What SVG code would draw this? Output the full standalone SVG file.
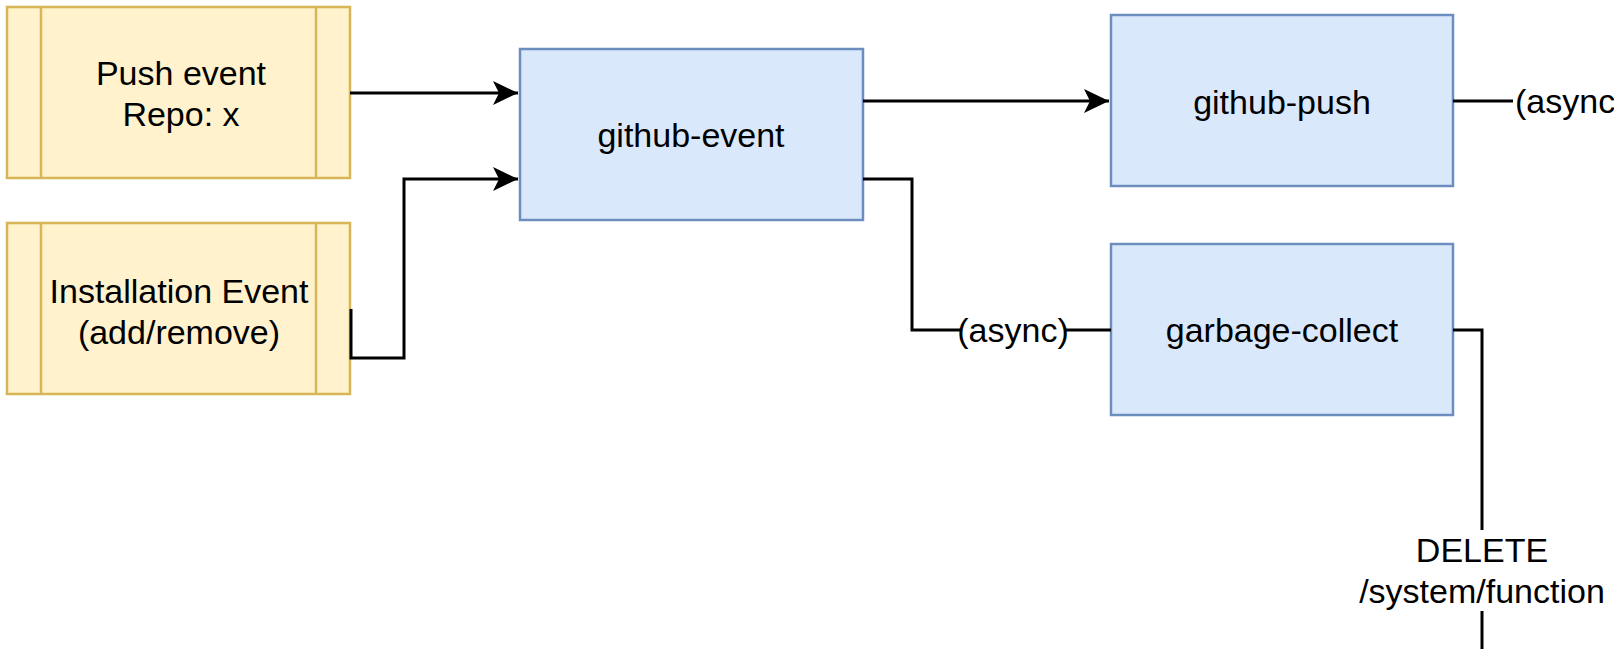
<svg xmlns="http://www.w3.org/2000/svg" width="1614" height="649" viewBox="0 0 1614 649">
<defs>
<style>
.ev{fill:#fff2cc;stroke:#d6b656;stroke-width:2.5}
.evl{stroke:#d6b656;stroke-width:2.5;fill:none}
.fn{fill:#dae8fc;stroke:#6c8ebf;stroke-width:2.5}
.t{font-family:"Liberation Sans",Arial,sans-serif;font-size:34px;fill:#000;text-anchor:middle}
.c{fill:none;stroke:#000;stroke-width:3}
</style>
<marker id="ah" markerUnits="userSpaceOnUse" markerWidth="30" markerHeight="30" viewBox="0 0 30 30" refX="25" refY="15" orient="auto">
<path d="M0,3 L25,15 L0,27 L6,15 Z" fill="#000"/>
</marker>
</defs>
<g id="push-event">
<rect class="ev" x="7" y="7" width="343" height="171"/>
<line class="evl" x1="41" y1="7" x2="41" y2="178"/>
<line class="evl" x1="316" y1="7" x2="316" y2="178"/>
<text class="t" x="181" y="85">Push event</text>
<text class="t" x="181" y="126">Repo: x</text>
</g>
<g id="installation-event">
<rect class="ev" x="7" y="223" width="343" height="171"/>
<line class="evl" x1="41" y1="223" x2="41" y2="394"/>
<line class="evl" x1="316" y1="223" x2="316" y2="394"/>
<text class="t" x="179" y="303">Installation Event</text>
<text class="t" x="179" y="344">(add/remove)</text>
</g>
<g id="github-event">
<rect class="fn" x="520" y="49" width="343" height="171"/>
<text class="t" x="691" y="147">github-event</text>
</g>
<g id="github-push">
<rect class="fn" x="1111" y="15" width="342" height="171"/>
<text class="t" x="1282" y="114">github-push</text>
</g>
<g id="garbage-collect">
<rect class="fn" x="1111" y="244" width="342" height="171"/>
<text class="t" x="1282" y="342">garbage-collect</text>
</g>
<g id="connectors">
<path class="c" d="M350,93 L518,93" marker-end="url(#ah)"/>
<path class="c" d="M351,309 L351,358 L404,358 L404,179 L518,179" marker-end="url(#ah)"/>
<path class="c" d="M863,101 L1109,101" marker-end="url(#ah)"/>
<path class="c" d="M1453,101 L1513,101"/>
<text class="t" x="1515" y="113" style="text-anchor:start">(async)</text>
<path class="c" d="M863,179 L912,179 L912,330 L961,330"/>
<path class="c" d="M1065,330 L1111,330"/>
<text class="t" x="1013" y="342">(async)</text>
<path class="c" d="M1453,330 L1482,330 L1482,530"/>
<path class="c" d="M1482,611 L1482,649"/>
<text class="t" x="1482" y="562">DELETE</text>
<text class="t" x="1482" y="603">/system/function</text>
</g>
</svg>
